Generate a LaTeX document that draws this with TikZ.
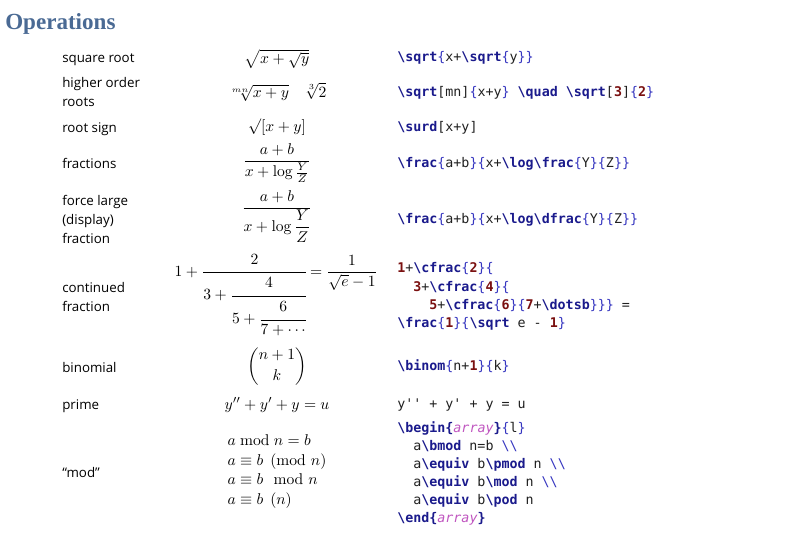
\documentclass[tikz,border=0pt]{standalone}
\usepackage{amsmath}
\usepackage{fontspec}
\newfontfamily\labfont{Open Sans}
\newfontfamily\codefont{DejaVu Sans Mono}
\newfontfamily\titlefont{Liberation Serif}
\definecolor{titlec}{HTML}{4A6A94}
\definecolor{kwc}{HTML}{1A1A8C}
\definecolor{brc}{HTML}{3535C0}
\definecolor{numc}{HTML}{7A1010}
\definecolor{arrc}{HTML}{C055C0}
\definecolor{codetxt}{HTML}{202020}
\newcommand\cKw[1]{\textbf{\color{kwc}\textbackslash #1}}
\newcommand\cL{{\color{brc}\{}}
\newcommand\cR{{\color{brc}\}}}
\newcommand\cN[1]{\textbf{\color{numc}#1}}
\newcommand\cQ{\char"27}
\newcommand\cBS{{\color{brc}\textbackslash\textbackslash}}
\begin{document}
\begin{tikzpicture}[x=0.75pt,y=-0.75pt,
  lab/.style={anchor=base west,inner sep=0,font=\labfont\fontsize{10}{12}\selectfont},
  code/.style={anchor=base west,inner sep=0,font=\codefont\fontsize{10}{12}\selectfont,text=codetxt},
  mth/.style={anchor=base,inner sep=0,scale=1.17,font=\fontsize{10}{12.5}\selectfont}]
\useasboundingbox[fill=white] (0,0) rectangle (796,540);
\node[anchor=base west,inner sep=0,text=titlec,font=\titlefont\bfseries\fontsize{17.3}{19}\selectfont] (title) at (5,29) {Operations};
% labels
\node[lab] (l1) at (62,62) {square root};
\node[lab] (l2a) at (62,87) {higher order};
\node[lab] (l2b) at (62,106) {roots};
\node[lab] (l3) at (62,132) {root sign};
\node[lab] (l4) at (62,168) {fractions};
\node[lab] (l5a) at (62,205) {force large};
\node[lab] (l5b) at (62,224) {(display)};
\node[lab] (l5c) at (62,243) {fraction};
\node[lab] (l6a) at (62,292) {continued};
\node[lab] (l6b) at (62,311) {fraction};
\node[lab] (l7) at (62,372) {binomial};
\node[lab] (l8) at (62,409) {prime};
\node[lab] (l9) at (62,477) {“mod”};
% math
\node[mth] (m1) at (277,63) {$\sqrt{x+\sqrt{y}}$};
\node[mth] (m2) at (277,97) {$\sqrt[mn]{x+y}\quad\sqrt[3]{2}$};
\node[mth] (m3) at (277,131) {$\surd[x+y]$};
\node[mth] (m4) at (277,165) {$\displaystyle\frac{a+b}{x+\log\frac{Y}{Z}}$};
\node[mth] (m5) at (277,212) {$\displaystyle\frac{a+b}{x+\log\dfrac{Y}{Z}}$};
\node[mth] (m6) at (276,276) {$\displaystyle 1+\cfrac{2}{3+\cfrac{4}{5+\cfrac{6}{7+\dotsb}}}=\frac{1}{\sqrt e-1}$};
\node[mth] (m7) at (277,370) {$\displaystyle\binom{n+1}{k}$};
\node[mth] (m8) at (277,409) {$y''+y'+y=u$};
\node[mth] (m9) at (277,475) {$\begin{array}{l}
  a\bmod n=b\\
  a\equiv b\pmod n\\
  a\equiv b\mod n\\
  a\equiv b\pod n
\end{array}$};
% code
\node[code] (c1) at (397,61) {\cKw{sqrt}\cL x+\cKw{sqrt}\cL y\cR\cR};
\node[code] (c2) at (397,96) {\cKw{sqrt}[mn]\cL x+y\cR{} \cKw{quad} \cKw{sqrt}[\cN{3}]\cL\cN{2}\cR};
\node[code] (c3) at (397,131) {\cKw{surd}[x+y]};
\node[code] (c4) at (397,167) {\cKw{frac}\cL a+b\cR\cL x+\cKw{log}\cKw{frac}\cL Y\cR\cL Z\cR\cR};
\node[code] (c5) at (397,223) {\cKw{frac}\cL a+b\cR\cL x+\cKw{log}\cKw{dfrac}\cL Y\cR\cL Z\cR\cR};
\node[code] (c6) at (397,272) {\cN{1}+\cKw{cfrac}\cL\cN{2}\cR\cL};
\node[code] (c7) at (413,291) {\cN{3}+\cKw{cfrac}\cL\cN{4}\cR\cL};
\node[code] (c8) at (429,309) {\cN{5}+\cKw{cfrac}\cL\cN{6}\cR\cL\cN{7}+\cKw{dotsb}\cR\cR\cR{} =};
\node[code] (c9) at (397,327) {\cKw{frac}\cL\cN{1}\cR\cL\cKw{sqrt} e - \cN{1}\cR};
\node[code] (c10) at (397,370) {\cKw{binom}\cL n+\cN{1}\cR\cL k\cR};
\node[code] (c11) at (397,408) {y\cQ\cQ{} + y\cQ{} + y = u};
\node[code] (c12) at (397,432) {\cKw{begin}\textbf{\color{kwc}\{}{\color{arrc}\itshape array}\textbf{\color{kwc}\}}\cL l\cR};
\node[code] (c13) at (413,450) {a\cKw{bmod} n=b \cBS};
\node[code] (c14) at (413,468) {a\cKw{equiv} b\cKw{pmod} n \cBS};
\node[code] (c15) at (413,486) {a\cKw{equiv} b\cKw{mod} n \cBS};
\node[code] (c16) at (413,504) {a\cKw{equiv} b\cKw{pod} n};
\node[code] (c17) at (397,522) {\cKw{end}\textbf{\color{kwc}\{}{\color{arrc}\itshape array}\textbf{\color{kwc}\}}};
\end{tikzpicture}
\end{document}
